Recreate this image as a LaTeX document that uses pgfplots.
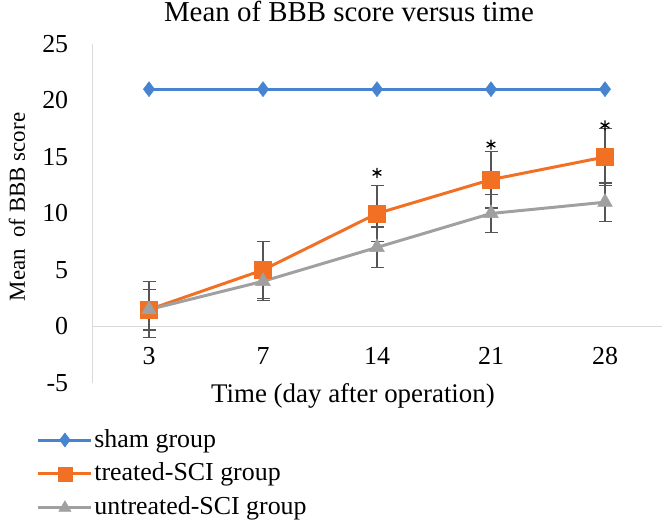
\documentclass[border=0pt]{standalone}
\usepackage{fontspec}
\setmainfont{Liberation Serif}
\usepackage{pgfplots}
\pgfplotsset{compat=1.18}
\definecolor{shamblue}{RGB}{70,132,210}
\definecolor{treatorange}{RGB}{242,112,36}
\definecolor{untgray}{RGB}{160,160,160}
\definecolor{errgray}{RGB}{85,85,85}
\definecolor{axgray}{RGB}{217,217,217}
\begin{document}
\fontsize{26}{30}\selectfont
\begin{tikzpicture}
\useasboundingbox (0,0) rectangle (666bp,527bp);
\begin{axis}[
  at={(92bp,144bp)}, anchor=south west,
  scale only axis, width=570bp, height=339bp,
  xmin=-0.5, xmax=4.5, ymin=-5, ymax=25,
  axis x line=middle, axis y line=left,
  axis line style={-, draw=axgray, line width=1pt},
  xtick={0,1,2,3,4}, xticklabels={3,7,14,21,28},
  ytick={-5,0,5,10,15,20,25},
  major tick length=0pt,
  /pgf/number format/assume math mode=true,
  tick label style={font=\fontsize{26}{30}\selectfont},
  xticklabel style={anchor=north, yshift=-12bp},
  yticklabel style={anchor=east, xshift=-15bp},
  legend style={draw=none, fill=none, at={(-0.097,-0.131)}, anchor=north west,
    inner sep=0pt, row sep=9bp, font=\fontsize{26}{30}\selectfont,
    nodes={inner sep=1.5bp}},
  legend cell align=left,
  legend image code/.code={\draw[mark repeat=2,mark phase=2,mark size=7bp] plot coordinates {(0bp,0bp) (26.5bp,0bp) (53bp,0bp)};},
  clip=false,
]
\addplot[shamblue, line width=3pt, mark=diamond*, mark size=7.5bp,
  mark options={solid, fill=shamblue, line width=0.5pt}]
  coordinates {(0,21) (1,21) (2,21) (3,21) (4,21)};
\addlegendentry{sham group}
\addplot[treatorange, line width=3pt, mark=square*, mark size=8.5bp,
  mark options={solid, fill=treatorange, line width=0.5pt},
  error bars/.cd, y dir=both, y explicit,
  error bar style={errgray, line width=1.4pt},
  error mark options={rotate=90, errgray, mark size=6.5bp, line width=1.4pt}]
  coordinates {(0,1.5) +- (0,2.5) (1,5) +- (0,2.5) (2,10) +- (0,2.5) (3,13) +- (0,2.5) (4,15) +- (0,2.5)};
\addlegendentry{treated-SCI group}
\addplot[untgray, line width=3pt, mark=triangle*, mark size=8.5bp,
  mark options={solid, fill=untgray, line width=0.5pt},
  error bars/.cd, y dir=both, y explicit,
  error bar style={errgray, line width=1.4pt},
  error mark options={rotate=90, errgray, mark size=6.5bp, line width=1.4pt}]
  coordinates {(0,1.5) +- (0,1.8) (1,4) +- (0,1.7) (2,7) +- (0,1.8) (3,10) +- (0,1.7) (4,11) +- (0,1.7)};
\addlegendentry{untreated-SCI group}
\addplot[only marks, mark=asterisk, mark size=5bp, black, mark options={line width=1.3pt}, forget plot]
  coordinates {(2,13.6) (3,16.1) (4,17.8)};
\end{axis}
\node[anchor=base, font=\fontsize{29}{33}\selectfont] at (349bp,505bp) {Mean of BBB score versus time};
\node[anchor=base, font=\fontsize{27}{31}\selectfont] at (353bp,124bp) {Time (day after operation)};
\node[rotate=90, anchor=center, font=\fontsize{23}{28}\selectfont] at (17bp,320bp) {Mean\ \ of BBB score};
\end{tikzpicture}
\end{document}
